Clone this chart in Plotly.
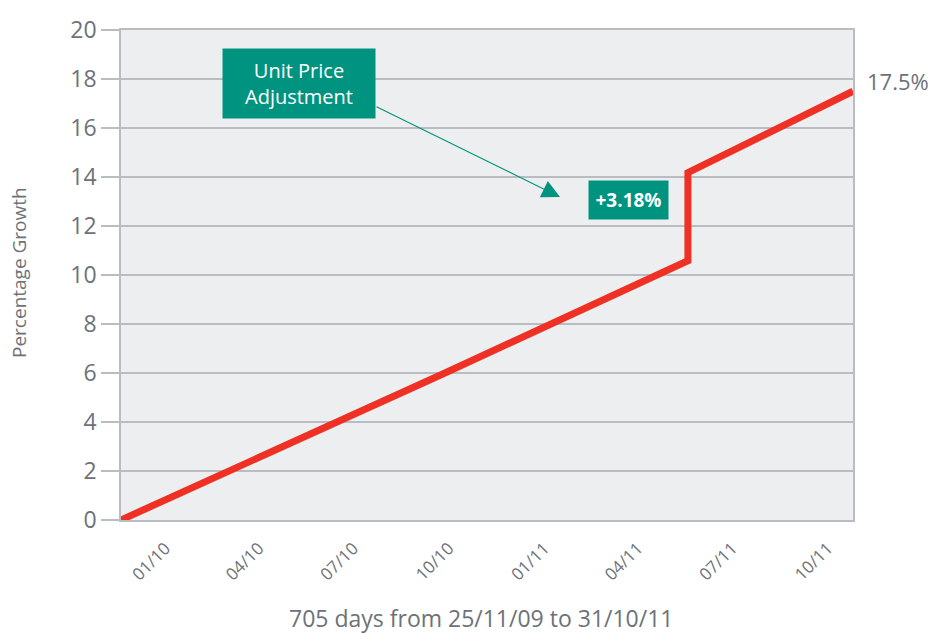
import plotly.graph_objects as go

# Data
dates = ["2009-11-25", "2010-06-21", "2010-10-03", "2011-05-25", "2011-05-25", "2011-10-31"]
growth = [0.0, 4.0, 6.0, 10.58, 14.18, 17.5]
y_ticks = [0, 2, 4, 6, 8, 10, 12, 14, 16, 18, 20]
x_tick_dates = ["2010-01-01", "2010-04-01", "2010-07-01", "2010-10-01",
                "2011-01-01", "2011-04-01", "2011-07-01", "2011-10-01"]
x_tick_labels = ["01/10", "04/10", "07/10", "10/10", "01/11", "04/11", "07/11", "10/11"]
end_label = "17.5%"
jump_label = "+3.18%"
adj_label = "Unit Price<br>Adjustment"
x_title = "705 days from 25/11/09 to 31/10/11"
y_title = "Percentage Growth"

RED = "#EE3124"
TEAL = "#009480"
GREY = "#6d7278"
GRID = "#b9bdc2"
FONT = "Open Sans"

L, R, T, B = 121, 853, 30, 520
PW, PH = R - L, B - T

fig = go.Figure()
fig.add_trace(go.Scatter(
    x=dates, y=growth, mode="lines",
    line=dict(color=RED, width=7),
    hoverinfo="skip", showlegend=False,
))

fig.update_layout(
    width=934, height=635,
    margin=dict(l=L, r=934 - R, t=T, b=635 - B, autoexpand=False),
    paper_bgcolor="white", plot_bgcolor="#edeef0",
    font=dict(family=FONT, color=GREY),
    showlegend=False,
)

fig.update_xaxes(
    range=["2009-11-25", "2011-10-31"],
    type="date",
    tickvals=x_tick_dates, ticktext=x_tick_labels,
    tickangle=-45, tickfont=dict(size=17, color=GREY),
    showgrid=False, zeroline=False,
    ticks="outside", ticklen=10, tickcolor="rgba(0,0,0,0)",
    ticklabelshift=6,
    showline=True, linecolor=GRID, linewidth=1.5, mirror=True,
)
fig.update_yaxes(
    range=[0, 20], tickvals=y_ticks,
    tickfont=dict(size=23, color=GREY),
    showgrid=True, gridcolor=GRID, gridwidth=1.5,
    zeroline=False,
    ticks="outside", ticklen=18, tickcolor=GRID, tickwidth=1.5,
    showline=True, linecolor=GRID, linewidth=1.5, mirror=True,
)

# Axis titles
fig.add_annotation(
    xref="paper", yref="paper", x=(19 - L) / PW, y=(B - 273) / PH,
    text=y_title, textangle=-90, showarrow=False,
    xanchor="center", yanchor="middle",
    font=dict(size=19, color=GREY),
)
fig.add_annotation(
    xref="paper", yref="paper", x=(481 - L) / PW, y=(B - 618) / PH,
    text=x_title, showarrow=False,
    xanchor="center", yanchor="middle",
    font=dict(size=23, color=GREY),
)

# End value label
fig.add_annotation(
    x=dates[-1], y=growth[-1], text=end_label, showarrow=False,
    xanchor="left", yanchor="middle", xshift=12, yshift=10,
    font=dict(size=22, color=GREY),
)

# "+3.18%" box
fig.add_annotation(
    xref="x domain", yref="y domain", x=(628.5 - L) / PW, y=(B - 200) / PH,
    xanchor="center", yanchor="middle",
    text="<b>" + jump_label + "</b>", showarrow=False,
    bgcolor=TEAL, font=dict(size=19, color="white"),
    width=79, height=38, borderpad=0,
)

# Arrow
fig.add_annotation(
    xref="x domain", yref="y domain",
    x=(560 - L) / PW, y=(B - 197) / PH,
    ax=(375 - L) / PW, ay=(B - 106) / PH,
    axref="x domain", ayref="y domain",
    text="", showarrow=True, arrowhead=2, arrowsize=3, arrowwidth=1.2,
    arrowcolor=TEAL,
)

# "Unit Price Adjustment" box
fig.add_annotation(
    xref="x domain", yref="y domain", x=(299 - L) / PW, y=(B - 83.5) / PH,
    xanchor="center", yanchor="middle",
    text=adj_label, showarrow=False,
    bgcolor=TEAL, font=dict(size=20, color="white"),
    width=152, height=69, borderpad=0,
)

fig.write_html("out.html", config={"displayModeBar": False},
               post_script=["document.body.style.margin='0';"])
